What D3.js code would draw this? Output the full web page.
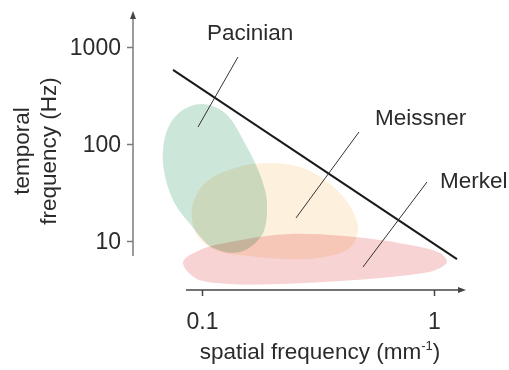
<!DOCTYPE html>
<html><head><meta charset="utf-8">
<script src="https://cdn.jsdelivr.net/npm/d3@7"></script>
<style>
html,body{margin:0;padding:0;background:#fff;}
text{font-family:"Helvetica Neue","Liberation Sans",Arial,sans-serif;fill:#2b2b2b;}
</style></head><body>
<svg id="c" width="509" height="370"></svg>
<script>
// ---- data (spatial frequency in mm^-1, temporal frequency in Hz) ----
const xTicks = [0.1, 1];
const xTickLabels = ["0.1", "1"];
const yTicks = [10, 100, 1000];
const yTickLabels = ["10", "100", "1000"];

const pacinianX = [0.100, 0.1256, 0.1563, 0.1814, 0.1906, 0.1814, 0.1458, 0.1115, 0.0888, 0.0750, 0.0679, 0.0707, 0.0804];
const pacinianY = [258, 209, 93, 42.6, 24.6, 11.5, 7.7, 8.5, 15.0, 26.5, 63.7, 139, 214];

const meissnerX = [0.1906, 0.2646, 0.339, 0.4259, 0.4704, 0.4345, 0.3226, 0.2394, 0.161, 0.1138, 0.0952, 0.0906, 0.103, 0.1387];
const meissnerY = [63.7, 57.9, 42.6, 24.6, 13.6, 8.5, 6.7, 6.5, 7.0, 8.1, 11.5, 21.9, 39.6, 56.6];

const merkelX = [0.0828, 0.098, 0.1458, 0.2394, 0.3934, 0.7136, 1.061, 1.138, 1.01, 0.7136, 0.3934, 0.2169, 0.132, 0.0933];
const merkelY = [6.07, 8.1, 10.2, 11.8, 11.3, 9.5, 7.5, 6.07, 5.0, 4.36, 3.87, 3.6, 3.6, 4.16];

const limitX = [0.075, 1.256];
const limitY = [580, 6.5];

const regionNames = ["Pacinian", "Meissner", "Merkel"];
const regionColors = ["#cde6da", "#fdf0dc", "#f8d3d4"];
// label anchor and leader line endpoints (data coordinates)
const labelX = [0.105, 0.557, 1.061];
const labelY = [1181, 157, 35.2];
const leaderX1 = [0.1429, 0.475, 0.933];
const leaderY1 = [788, 133, 40.6];
const leaderX2 = [0.0961, 0.2543, 0.494];
const leaderY2 = [149.7, 17.3, 5.39];

// ---- drawing ----
const svg = d3.select("#c");
const x = d3.scaleLog().domain([0.1, 1]).range([202, 434]);
const y = d3.scaleLog().domain([10, 1000]).range([241, 47]);

const blobs = [
  pacinianX.map((v, i) => [v, pacinianY[i]]),
  meissnerX.map((v, i) => [v, meissnerY[i]]),
  merkelX.map((v, i) => [v, merkelY[i]])
];
const line = d3.line().x(d => x(d[0])).y(d => y(d[1])).curve(d3.curveCatmullRomClosed.alpha(0.5));
const g = svg.append("g").style("isolation", "isolate");
blobs.forEach((b, i) => {
  g.append("path").attr("d", line(b)).attr("fill", regionColors[i])
    .style("mix-blend-mode", "multiply");
});

// limit line
svg.append("line")
  .attr("x1", x(limitX[0])).attr("y1", y(limitY[0]))
  .attr("x2", x(limitX[1])).attr("y2", y(limitY[1]))
  .attr("stroke", "#1a1a1a").attr("stroke-width", 2);

// leaders and labels
regionNames.forEach((n, i) => {
  svg.append("line")
    .attr("x1", x(leaderX1[i])).attr("y1", y(leaderY1[i]))
    .attr("x2", x(leaderX2[i])).attr("y2", y(leaderY2[i]))
    .attr("stroke", "#333").attr("stroke-width", 1);
  svg.append("text").attr("x", x(labelX[i])).attr("y", y(labelY[i]))
    .attr("font-size", 22.5).text(n);
});

// axes
const axisGray = "#7a7a7a";
const xAxisY = 290, yAxisX = 133;
// y axis
svg.append("line").attr("x1", yAxisX).attr("x2", yAxisX).attr("y1", 14).attr("y2", 256)
  .attr("stroke", axisGray).attr("stroke-width", 1.5);
svg.append("path").attr("d", `M${yAxisX},11 L${yAxisX-3},19 L${yAxisX+3},19 Z`).attr("fill", "#444");
const yAxis = d3.axisLeft(y).tickValues(yTicks).tickFormat((d, i) => yTickLabels[i]).tickSize(6).tickPadding(6);
const ya = svg.append("g").attr("transform", `translate(${yAxisX},0)`).call(yAxis);
ya.select(".domain").remove();
ya.selectAll(".tick line").attr("stroke", axisGray).attr("stroke-width", 1.5);
ya.selectAll(".tick text").attr("font-size", 23).attr("font-family", null).attr("fill", "#2b2b2b");

// x axis
svg.append("line").attr("x1", 186).attr("x2", 462).attr("y1", xAxisY).attr("y2", xAxisY)
  .attr("stroke", "#444").attr("stroke-width", 1.5);
svg.append("path").attr("d", `M466,${xAxisY} L458,${xAxisY-3} L458,${xAxisY+3} Z`).attr("fill", "#444");
const xAxis = d3.axisBottom(x).tickValues(xTicks).tickFormat((d, i) => xTickLabels[i]).tickSize(6).tickPadding(17);
const xa = svg.append("g").attr("transform", `translate(0,${xAxisY})`).call(xAxis);
xa.select(".domain").remove();
xa.selectAll(".tick line").attr("stroke", "#444").attr("stroke-width", 1.5);
xa.selectAll(".tick text").attr("font-size", 23).attr("font-family", null).attr("fill", "#2b2b2b");

// axis titles
const xt = svg.append("text").attr("x", 320).attr("y", 359).attr("text-anchor", "middle").attr("font-size", 22.5);
xt.append("tspan").text("spatial frequency (mm");
xt.append("tspan").attr("font-size", 13).attr("dy", -9).text("-1");
xt.append("tspan").attr("dy", 9).text(")");

const yt = svg.append("text").attr("transform", "translate(28.5,151) rotate(-90)").attr("text-anchor", "middle").attr("font-size", 22.5);
yt.append("tspan").attr("x", 0).attr("y", 0).text("temporal");
yt.append("tspan").attr("x", 0).attr("y", 27.5).text("frequency (Hz)");
</script>
</body></html>
